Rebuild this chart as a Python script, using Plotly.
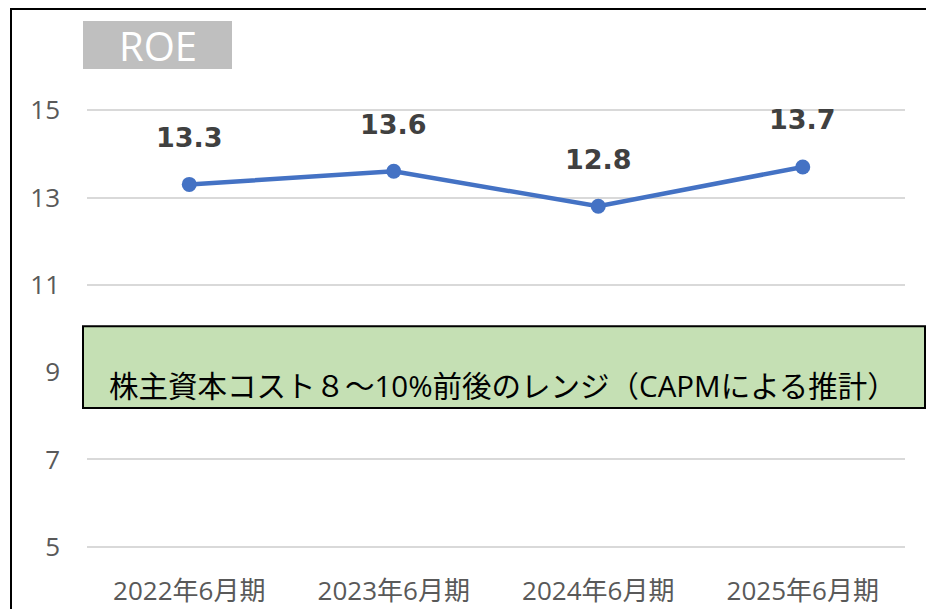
import plotly.graph_objects as go

categories = ["2022年6月期", "2023年6月期", "2024年6月期", "2025年6月期"]
roe_values = [13.3, 13.6, 12.8, 13.7]
y_ticks = [5, 7, 9, 11, 13, 15]
band_range = [8.18, 10.05]
band_text = "株主資本コスト８～10%前後のレンジ（CAPMによる推計）"
title_text = "ROE"

W, H = 926, 609
y_min, y_max = 4.95, 15.05
L, R, T, B = 87, 21, 108, 60
pw, ph = W - L - R, H - T - B


def px_x(p):
    return (p - L) / pw


def px_y(p):
    return (H - B - p) / ph


def data_y(v):
    return (v - y_min) / (y_max - y_min)


TICK_FONT = dict(family="Open Sans, Noto Sans CJK JP, sans-serif", size=26, color="#595959")

fig = go.Figure()
fig.add_trace(go.Scatter(
    x=categories, y=roe_values, mode="lines+markers",
    line=dict(color="#4472C4", width=4.5),
    marker=dict(color="#4472C4", size=15),
    hoverinfo="skip", showlegend=False,
))

for c, v in zip(categories, roe_values):
    fig.add_annotation(
        x=c, y=v, xref="x", yref="y", text=f"<b>{v:.1f}</b>",
        showarrow=False, yshift=47,
        font=dict(family="DejaVu Sans, Verdana, sans-serif", size=27, color="#404040"),
    )

shapes = [
    # outer border
    dict(type="rect", xref="paper", yref="paper",
         x0=px_x(11), x1=px_x(940), y0=px_y(640), y1=px_y(9),
         line=dict(color="black", width=2), fillcolor="rgba(0,0,0,0)", layer="above"),
    # ROE title box
    dict(type="rect", xref="paper", yref="paper",
         x0=px_x(83), x1=px_x(232), y0=px_y(69), y1=px_y(21),
         line=dict(width=0), fillcolor="#BFBFBF", layer="above"),
    # cost of equity band
    dict(type="rect", xref="paper", yref="paper",
         x0=px_x(83), x1=px_x(925),
         y0=data_y(band_range[0]), y1=data_y(band_range[1]),
         line=dict(color="black", width=2), fillcolor="#C5E0B4", layer="above"),
]

fig.add_annotation(
    x=px_x(158), y=px_y(45), xref="paper", yref="paper", text=title_text,
    showarrow=False, xanchor="center", yanchor="middle",
    font=dict(family="Open Sans, Noto Sans, sans-serif", size=40, color="white"),
)
fig.add_annotation(
    x=px_x(503), y=px_y(385), xref="paper", yref="paper", text=band_text,
    showarrow=False, xanchor="center", yanchor="middle",
    font=dict(family="Open Sans, Noto Sans CJK JP, sans-serif", size=29.5, color="black"),
)

fig.update_layout(
    width=W, height=H,
    margin=dict(l=L, r=R, t=T, b=B, pad=0, autoexpand=False),
    paper_bgcolor="white", plot_bgcolor="white",
    shapes=shapes,
    xaxis=dict(
        type="category", range=[-0.5, 3.5], showgrid=False, showline=False,
        zeroline=False, ticks="", tickfont=TICK_FONT, ticklabelstandoff=24,
        automargin=False,
    ),
    yaxis=dict(
        range=[y_min, y_max], tickvals=y_ticks, showgrid=True,
        gridcolor="#D9D9D9", gridwidth=1.5, showline=False, zeroline=False,
        ticks="", tickfont=TICK_FONT, ticklabelstandoff=26, automargin=False,
    ),
)

fig.write_html(
    "out.html",
    config={"displayModeBar": False},
    post_script="document.body.style.margin='0';document.documentElement.style.overflow='hidden';",
)
